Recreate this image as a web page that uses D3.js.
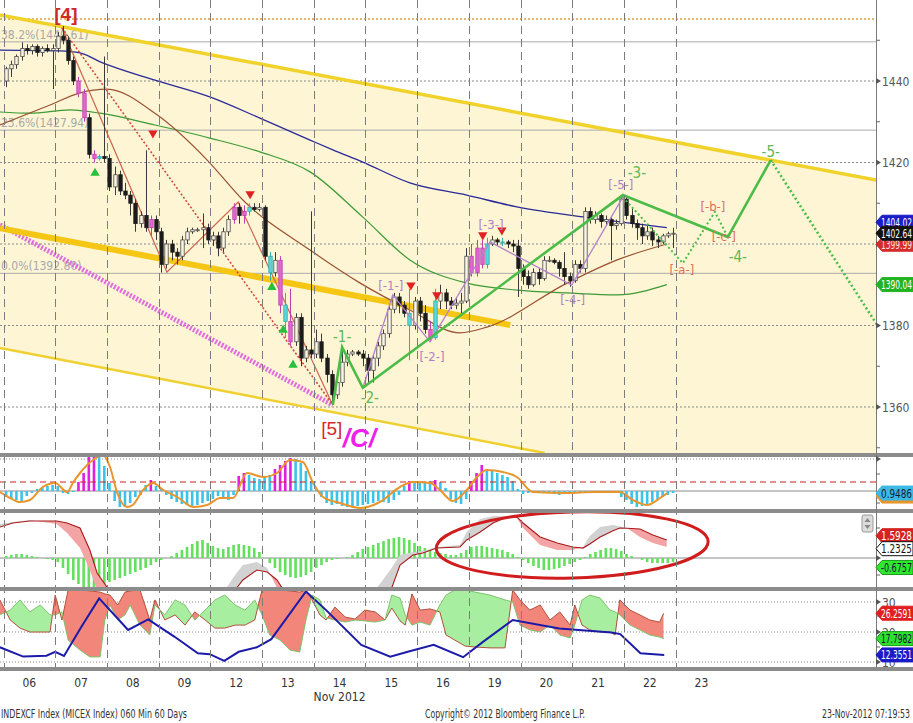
<!DOCTYPE html>
<html><head><meta charset="utf-8">
<script src="https://cdn.jsdelivr.net/npm/d3@7"></script>
<style>
html,body{margin:0;padding:0;background:#fff;}
svg{display:block;}
text{font-family:"Liberation Sans Narrow","DejaVu Sans Condensed","Arial Narrow",sans-serif;}
</style></head><body>
<svg id="chart" width="913" height="723"></svg>
<script>
// ---------------- DATA ----------------
const dayLabels = ["06","07","08","09","12","13","14","15","16","19","20","21","22","23"];
const barsPerDay = 10;

const open = [1440,1443,1444,1446,1448,1447.5,1448.5,1447,1448,1447.5,
1448,1451,1450,1445,1440,1437,1431,1422,1421,1421.5,
1421,1414,1417,1413,1412,1410,1405,1407,1404,1406,
1403,1395,1400,1398,1397,1401,1403,1403.5,1403.5,1404,
1401,1402,1399,1403,1406,1409,1407,1408,1409,1408.5,
1409,1397,1393,1396,1385,1381,1376,1382,1372,1374,
1373,1376,1372,1368,1363,1366,1371,1373,1373.5,1373,
1372,1369,1372,1375,1378,1384,1387,1385,1383,1380,
1386,1383,1379,1377,1386,1388,1386,1385,1385.5,1386,
1397,1393,1399,1395,1400,1401,1400.5,1400.5,1400,1399.5,
1394,1392,1390,1393,1391.5,1396,1396,1395.5,1394,1392,
1391,1395,1394,1408,1406,1407,1405.5,1406,1404.5,1405,
1411,1407,1405,1404,1402,1403,1401,1400.5,1402,1402.5];
const high = [1443.5,1445,1446.5,1449.5,1449,1449,1449,1448.5,1449,1449,
1452,1453.5,1451,1446,1441,1438,1432,1423,1422,1446,
1422,1419,1418,1415,1413,1411,1408,1423,1407,1407,
1404,1401,1401,1399,1402,1404,1404,1404,1407.5,1405,
1403,1403,1404,1407,1410,1410,1409.5,1410,1410,1410,
1409.5,1398,1398,1397,1388,1389,1383,1383,1375,1408,
1379,1378,1373,1369,1367,1375,1374,1374,1374,1374,
1373,1373,1376,1379,1385,1388,1388,1386,1389,1387,
1387,1385,1381,1389,1390,1389,1387,1387,1388,1399,
1400,1401,1401,1401.5,1402,1401.5,1401.5,1401,1401,1401,
1395,1393.5,1394,1394,1397,1397,1396.5,1396,1398,1393,
1396,1396,1409,1409,1408,1407.5,1407,1406.5,1406,1412,
1411.5,1409,1406,1405,1404.5,1404,1402,1402.5,1403,1404];
const low = [1438.5,1441,1443,1445,1446.5,1446.5,1446,1446,1447,1438,
1447,1449,1444,1439,1436,1430,1421,1420,1420.5,1420,
1413,1412,1412,1411,1407,1403,1404,1403,1402,1401,
1393,1394,1396,1395,1396,1400,1402.5,1403,1399,1400,
1399.5,1397,1398,1402,1405,1405,1405,1407,1408,1408,
1396,1391,1392,1383,1377,1375,1375,1370,1371,1372,
1372,1371,1366,1360.5,1362,1365,1370,1372.5,1372.5,1370,
1366,1366,1370,1374,1377,1383,1383,1382,1371.5,1379,
1381,1378,1376,1376.5,1384,1384,1384,1384,1383,1385.5,
1392,1392,1394,1394,1399.5,1399.5,1399.5,1399,1398,1387,
1390,1389,1389.5,1390,1391,1395.5,1395,1392,1390,1389.5,
1390.5,1393,1393,1405,1405,1404,1404.5,1396,1403.5,1404.5,
1406,1404,1401,1400,1401,1399.5,1399,1400,1401.5,1399];
const close = [1443,1444,1446,1448,1447.5,1448.5,1447,1448,1447.5,1448,
1451,1450,1445,1440,1437,1431,1422,1421,1421.5,1421,
1414,1417,1413,1412,1410,1405,1407,1404,1406,1403,
1395,1400,1398,1397,1401,1403,1403.5,1403.5,1404,1401,
1402,1399,1403,1406,1409,1407,1408,1409,1408.5,1409,
1397,1393,1396,1385,1381,1376,1382,1372,1374,1373,
1376,1372,1368,1363,1366,1371,1373,1373.5,1373,1372,
1369,1372,1375,1378,1384,1387,1385,1383,1380,1386,
1383,1379,1377,1386,1388,1386,1385,1385.5,1386,1397,
1393,1399,1395,1400,1401,1400.5,1400.5,1400,1399.5,1394,
1392,1390,1393,1391.5,1396,1396,1395.5,1394,1392,1391,
1395,1394,1408,1406,1407,1405.5,1406,1404.5,1405,1411,
1407,1405,1404,1402,1403,1401,1400.5,1402,1402.5,1402.64];
const pinkBars = [14,15,17,28,44,46,53,55,82,90,91,92];
const cyanBars = [18,47,51,54,78,83,93,96];

// moving averages: [bar index, value]
const ma200 = [[-0.7,1447.6],[10.9,1447.4],[14.8,1446.9],[18.7,1444.7],[29.3,1440.2],[39.9,1436.1],[49.6,1430.9],[59.3,1425.5],[63.7,1423.1],[69.5,1420.1],[78.6,1415],[89.6,1412],[99.3,1409.1],[113.4,1406.4],[128.3,1404.02]];
const ma100 = [[-0.7,1432.4],[5.1,1432.1],[12.9,1432.9],[18.7,1432.1],[29.3,1429.2],[39.9,1426],[49.6,1422.6],[59.3,1417.7],[69.5,1406.6],[78.6,1396.1],[89.6,1390.4],[99.3,1388.7],[109,1388],[118.7,1387.5],[128.3,1390.04]];
const ma50 = [[-0.7,1429.2],[9,1434.1],[14.8,1437.1],[20,1438],[29.7,1431.7],[39.4,1420.6],[46.3,1410.8],[59.3,1398.5],[69,1390.4],[78.6,1383.8],[88.3,1378.2],[93.5,1379.6],[109,1390.4],[118.7,1396.1],[128.3,1399.99]];

// channel / trend lines
const channelUpper = [[-0.68,1456.2],[168.8,1415.7]];
const channelLower = [[-0.68,1374.5],[104.7,1348.7]];
const goldTrend = [[-0.68,1403.9],[98,1380.1]];
const magentaTrend = [[-0.68,1404.7],[63.7,1360.5]];
const topLevel = 1455.2;
const fibValues = [1449.61,1427.94,1392.80];
const fibLabels = ["38.2%(1449.61)","23.6%(1427.94)","0.0%(1392.80)"];
const gridValues = [1440,1420,1400,1380,1360];
const minorValues = [1450,1430,1410,1390,1370,1350];

// wave counts
const redZig = [[11.3,1453.0],[31.6,1393.1],[45.4,1410.3],[63.7,1360.5]];
const greenWave = [[63.7,1360.5],[65.5,1374.7],[69.5,1364.7],[119.8,1412.0],[140.1,1401.7],[148.4,1420.6]];
const greenWaveLabels = ["","-1-","-2-","-3-","-4-","-5-"];
const greenProjection = [[148.4,1420.6],[169,1380.1]];
const purpleWave = [[69.5,1364.7],[75.3,1387.5],[82.5,1376.0],[94.1,1400.5],[109.9,1389.9],[119.8,1411.5]];
const purpleLabels = ["","[-1-]","[-2-]","[-3-]","[-4-]","[-5-]"];
const abcWave = [[119.8,1411.5],[131.4,1395.3],[137.6,1407.9],[140.1,1401.7]];
const abcLabels = ["","[-a-]","[-b-]","[-c-]"];
const redDown = [[28.9,1427.2],[47.7,1412.3],[78.8,1389.9],[83.8,1387.5],[92.7,1402.2],[96.4,1403.4]];
const greenUp = [[17.7,1417.4],[51.9,1389.4],[54.1,1378.9],[56,1370.3]];

// panel 2 oscillator
const osc = [.85,.8,.775,.75,.875,.95,1.05,1.1,1.125,1.15,
1.125,.95,.925,.975,1.225,1.45,1.85,1.85,1.85,1.625,
1.2,.75,.6,.6,.7,.85,.9,1.15,1.275,1.125,
1.05,.9,.8,.725,.675,.65,.625,.65,.7,.75,
.8,.875,.825,.775,.9,1.375,1.45,1.4,1.325,1.3,
1.35,1.4,1.55,1.65,1.75,1.825,1.8,1.7,1.5,1.25,
1.05,.85,.7,.65,.675,.625,.6,.6,.625,.65,
.675,.7,.75,.725,.7,.775,.9,1.125,1.25,1.225,
1.2,1.225,1.25,1.275,1.225,1.075,.8,.7,.675,.8,
1.25,1.45,1.65,1.55,1.5,1.45,1.4,1.35,1.25,1.05,
.925,.95,.975,.95,.95,.975,.925,.9,.95,.925,
.975,.95,.975,.95,.975,1,.95,.975,.95,.85,
.775,.675,.6,.625,.675,.725,.8,.85,.9,.9486];
const oscHighlight = [14,15,16,17,28,45,46,52,53,54,55,78,83,90,91,92];
const oscSignal = [[-0.7,.975],[1.3,.825],[3.2,.725],[5.1,.775],[7.6,1.1],[10,1.2],[12.3,.975],[13.4,1.2],[14.8,1.45],[17.3,1.775],[19.2,1.9],[20.6,1.6],[22,.95],[23.9,.6],[25,.65],[27,1.025],[28.9,1.2],[30.9,1.025],[33.6,.85],[36.7,.6],[39.4,.65],[41.9,.825],[44.4,.825],[47.1,1.45],[50.2,1.35],[52.9,1.45],[55.4,1.775],[57.9,1.725],[59.9,1.2],[61.8,.85],[65.1,.7],[69,.575],[72.8,.725],[76.7,1.1],[79.2,1.225],[82.5,1.2],[84.4,1.025],[86.9,.75],[89.6,1.025],[91.6,1.35],[93.5,1.525],[96.6,1.475],[99.3,1.35],[102.4,.975],[109,.95],[114,.975],[119.2,.975],[121.7,.775],[124.5,.65],[127,.825],[128.3,.94]];
const oscLevels = {top:1.8, trigger:1.225, base:1};

// panel 3 macd
const macdHist = [.14,.21,.29,.29,.21,.14,.07,0,-.07,-.14,-.29,
-.71,-1.14,-1.57,-1.86,-2.07,-2.07,-2.07,-2,-1.86,
-1.71,-1.57,-1.43,-1.29,-1.14,-1,-.86,-.71,-.5,-.29,
-.14,0,.14,.36,.57,.79,1,1.21,1.29,1.07,
.86,.71,.64,.79,.93,1,.93,.86,.71,.43,
0,-.36,-.71,-1,-1.21,-1.36,-1.43,-1.36,-1.21,-1,
-.71,-.5,-.29,-.14,-.07,0,.07,.21,.43,.64,.79,.93,1.07,1.21,1.36,1.43,1.5,1.43,1.29,1.07,
.86,.71,.57,.43,.36,.29,.21,.21,.36,.57,
.79,.86,.86,.79,.71,.64,.57,.43,.29,
.07,-.14,-.36,-.57,-.71,-.86,-.86,-.79,-.71,-.57,-.43,-.29,
-.14,.07,.29,.43,.57,.71,.71,.64,.5,
.29,.14,0,-.14,-.29,-.36,-.36,-.36,-.36,-.29];
const macdIdx = [-0.7,1.8,5.1,10.3,12.3,14.8,16.7,18.1,24.5,34.1,40.9,44.8,46.3,49,51,52.9,54.4,59.3,67,71.9,74.8,76.7,79.2,81.1,83.8,88.3,89.6,92.2,94.7,97.4,99.3,100.5,103.8,107.1,110.1,112.1,113.4,115.4,117.9,119.2,120.6,123.1,125.6,128.3];
const macdSlow = [2.21,2.5,2.64,2.64,2.5,2.14,0.57,-1.07,-4.43,-4.8,-3.7,-2.29,-1.57,-0.86,-1,-1.57,-2.43,-3.7,-4.07,-3.36,-2.43,-0.5,0.21,0.36,0.71,0.79,1.29,1.86,2.5,2.93,2.93,2.5,1.5,1.07,0.79,0.71,1.0,1.5,1.95,2.14,2.12,2.07,1.64,1.29];
const macdFast = [2.43,2.57,2.71,2.43,1.79,0.71,-0.86,-2.29,-4.79,-5,-3.36,-1.21,-0.5,-0.29,-0.71,-2.14,-2.9,-4.07,-3.86,-2.29,-0.86,0.21,0.43,0.5,0.79,0.93,1.86,2.79,3,3,2.86,2.14,0.93,0.57,0.57,0.79,1.57,2.21,2.36,2.25,2.14,1.5,1.07,0.79];
const macdTagValues = [1.5928,1.2325,-0.6757];
const ellipseCenter = [110,0.93], ellipseHalf = [26.3,2.36];

// panel 4 DMI / ADX
const dmiIdx = [-0.7,1.3,3.2,5.1,7.1,9.0,10.0,11.3,12.5,14.8,16.7,18.7,19.6,20.6,22.1,23.5,24.5,26.4,28.3,29.3,31.2,33.2,35.1,37.0,39.0,40.9,42.8,44.8,46.7,48.6,50.0,51.5,53.5,55.4,57.3,58.5,59.7,61.2,62.4,64.1,66.1,68.0,69.9,71.9,73.8,75.1,76.7,77.7,79.0,80.6,82.5,84.4,85.6,87.3,89.3,91.2,94.1,97.0,98.5,99.9,101.8,103.8,105.7,107.6,109.6,110.5,111.9,113.4,115.4,117.3,118.3,119.2,121.2,123.1,125.0,126.9,127.7];
const diMinus = [30.7,24,21.3,20,20,20,32.3,24,34,34,33.7,33.3,32.7,32.3,29,33.3,33.7,34,24,30.7,24,25.7,22.3,26.7,24,21.3,21.3,22.3,22.3,24,34,34,34,33.7,33.3,34,30.7,25.7,24,28.3,25,24.3,27.3,26.7,24,28,23.7,22.3,32.7,27.3,27.7,26.7,19,17.3,15.3,15,14.7,14.7,34,30.7,27.3,29,24,26.7,22.3,29,22.3,20.7,20,20,19,30.7,27.3,25.7,24,23.3,26.2591];
const diPlus = [25.7,27.3,30.7,26.7,29,25.7,25.7,26.7,17.3,14,11.7,11.7,24,29,24,25.7,29,22.3,19,29,25.7,30.7,29,24,27.3,30.7,32.3,29,27.3,30.7,25.7,19,17.3,14,13.3,24,32.3,30.7,24.7,24,23.3,24,23.7,23.3,24,32.3,31.3,25.7,22.3,23.3,22.3,29,32.3,34,34,33.3,32.3,30.7,30,22.3,20.7,20,22.3,19,18,22.3,30.7,32.3,31.3,27.3,26.7,25.7,22.3,20.7,19,18.3,17.7982];
const adx = [[-0.7,14.9],[3.8,11.8],[8.3,12.1],[10,13.4],[11.7,12],[15.1,21.8],[18.5,31.2],[24.1,20.7],[28,24.2],[33.1,18.4],[37.6,12.9],[39.9,12.6],[42.7,10.4],[45.5,13.4],[49,14.9],[51.8,17.6],[58.5,33.5],[62.4,27.3],[69.2,15.7],[74.8,11.8],[78.2,13.4],[83.2,15.7],[88.9,11.6],[92.8,16.8],[98.5,24],[107.5,21.2],[117.6,19.8],[119.3,19.3],[123.2,12.9],[127.8,12.3551]];
const dmiGrid = [30,20,10];

// ---------------- LAYOUT ----------------
const W = 913, H = 723, AX = 876;
const svg = d3.select("#chart");
const defs = svg.append("defs");
const x = d3.scaleLinear().domain([0, 130]).range([3.5, 675.6]);
const bx = i => x(i + 0.5);
const PM = [0, 453], P2 = [457, 509], P3 = [513, 587], P4 = [591, 667];
const yM = d3.scaleLinear().domain([1360, 1440]).range([407, 81]);
const y2 = d3.scaleLinear().domain([1, 1.8]).range([491, 459]);
const y3 = d3.scaleLinear().domain([0, 1]).range([558, 544]);
const y4 = d3.scaleLinear().domain([10, 30]).range([662, 602]);

function clip(id, top, bot) {
  defs.append("clipPath").attr("id", id).append("rect")
    .attr("x", 0).attr("y", top).attr("width", AX).attr("height", bot - top);
}
clip("cM", PM[0], PM[1]); clip("c2", P2[0], P2[1]); clip("c3", P3[0], P3[1]); clip("c4", P4[0], P4[1]);

svg.append("rect").attr("width", W).attr("height", H).attr("fill", "#fff");

// ---------- main panel ----------
const gM = svg.append("g").attr("clip-path", "url(#cM)");
const pt = (d, ys) => [x(d[0]), ys(d[1])];
const u0 = pt(channelUpper[0], yM), u1 = pt(channelUpper[1], yM);
const l0 = pt(channelLower[0], yM), l1 = pt(channelLower[1], yM);
gM.append("path").attr("d", d3.line()([u0, u1, [AX, PM[1]], [l1[0], PM[1]], l1, l0]) + "Z")
  .attr("fill", "#fdf5d4");

gridValues.forEach(v => gM.append("line").attr("x1", 0).attr("x2", AX).attr("y1", yM(v)).attr("y2", yM(v))
  .attr("stroke", "#8a8a8a").attr("stroke-dasharray", "2,2"));
fibValues.forEach(v => gM.append("line").attr("x1", 0).attr("x2", AX).attr("y1", yM(v)).attr("y2", yM(v))
  .attr("stroke", "#ababab"));
gM.append("line").attr("x1", 0).attr("x2", AX).attr("y1", yM(topLevel)).attr("y2", yM(topLevel))
  .attr("stroke", "#d9a13c").attr("stroke-width", 1.5).attr("stroke-dasharray", "2,2");

fibLabels.forEach((t, k) => gM.append("text").attr("x", 1).attr("y", yM(fibValues[k]) - 3)
  .attr("font-size", 12).attr("fill", "#a8a8a8").text(t));

const lineGen = (ys, curve) => d3.line().x(d => x(d[0])).y(d => ys(d[1])).curve(curve || d3.curveLinear);

gM.append("path").attr("d", lineGen(yM)(channelUpper)).attr("stroke", "#f1d22a").attr("stroke-width", 3.5).attr("fill", "none");
gM.append("path").attr("d", lineGen(yM)(channelLower)).attr("stroke", "#f0d030").attr("stroke-width", 2.5).attr("fill", "none");
gM.append("path").attr("d", lineGen(yM)(magentaTrend)).attr("stroke", "#e06ce0").attr("stroke-width", 5).attr("stroke-dasharray", "2,1.6").attr("fill", "none");
gM.append("path").attr("d", lineGen(yM)(goldTrend)).attr("stroke", "#f6c614").attr("stroke-width", 6).attr("fill", "none");

gM.append("path").attr("d", lineGen(yM, d3.curveMonotoneX)(ma200)).attr("stroke", "#2a2a98").attr("stroke-width", 1.3).attr("fill", "none");
gM.append("path").attr("d", lineGen(yM, d3.curveMonotoneX)(ma100)).attr("stroke", "#3d9a35").attr("stroke-width", 1.2).attr("fill", "none");
gM.append("path").attr("d", lineGen(yM, d3.curveMonotoneX)(ma50)).attr("stroke", "#9a5233").attr("stroke-width", 1.2).attr("fill", "none");

gM.append("path").attr("d", lineGen(yM)(redZig)).attr("stroke", "#c9654f").attr("stroke-width", 1.2).attr("fill", "none");
gM.append("path").attr("d", lineGen(yM)([redZig[0], redZig[redZig.length - 1]])).attr("stroke", "#d24a3a")
  .attr("stroke-width", 1.6).attr("stroke-dasharray", "2,2").attr("fill", "none");

// candles
const gC = gM.append("g");
close.forEach((c, i) => {
  const o = open[i], cx = Math.round(bx(i)) + 0.5;
  const isPink = pinkBars.includes(i), isCyan = cyanBars.includes(i);
  const up = c >= o;
  let fill = up ? "#fbf6e3" : "#1c1c1c", stroke = up ? "#4a4a4a" : "#1c1c1c";
  if (isPink) { fill = "#e068d0"; stroke = "#c040b0"; }
  if (isCyan) { fill = "#5cd6d8"; stroke = "#2eaeb0"; }
  gC.append("line").attr("x1", cx).attr("x2", cx).attr("y1", yM(high[i])).attr("y2", yM(low[i]))
    .attr("stroke", isPink || isCyan ? stroke : "#3a3a3a").attr("stroke-width", 1);
  const yt = yM(Math.max(o, c)), yb = yM(Math.min(o, c));
  gC.append("rect").attr("x", cx - 1.7).attr("y", yt).attr("width", 3.4).attr("height", Math.max(1, yb - yt))
    .attr("fill", fill).attr("stroke", stroke).attr("stroke-width", 0.8);
});

// wave lines
gM.append("path").attr("d", lineGen(yM)(purpleWave)).attr("stroke", "#b482cc").attr("stroke-width", 1.3).attr("fill", "none");
gM.append("path").attr("d", lineGen(yM)(greenWave)).attr("stroke", "#4cbc48").attr("stroke-width", 2.6).attr("fill", "none");
gM.append("path").attr("d", lineGen(yM)(greenProjection)).attr("stroke", "#4cbc48").attr("stroke-width", 2.6).attr("stroke-dasharray", "2,2.5").attr("fill", "none");
gM.append("path").attr("d", lineGen(yM)(abcWave)).attr("stroke", "#4cbc48").attr("stroke-width", 2).attr("stroke-dasharray", "2,2.5").attr("fill", "none");

// signal triangles
redDown.forEach(d => gM.append("path").attr("d", d3.symbol(d3.symbolTriangle, 38)())
  .attr("transform", `translate(${x(d[0])},${yM(d[1])}) rotate(180)`).attr("fill", "#e02222"));
greenUp.forEach(d => gM.append("path").attr("d", d3.symbol(d3.symbolTriangle, 38)())
  .attr("transform", `translate(${x(d[0])},${yM(d[1])})`).attr("fill", "#25c03c"));

// wave labels
const gOff = [[0,0],[0,-5],[7,15],[14,-17],[10,25],[0,-3]];
greenWave.forEach((d, k) => { if (!greenWaveLabels[k]) return;
  gM.append("text").attr("x", x(d[0]) + gOff[k][0]).attr("y", yM(d[1]) + gOff[k][1]).attr("text-anchor", "middle")
    .attr("font-size", 15).attr("fill", "#5cb858").text(greenWaveLabels[k]); });
const pOff = [[0,0],[-2,-5],[2,19],[1,-13],[1,19],[-2,-8]];
purpleWave.forEach((d, k) => { if (!purpleLabels[k]) return;
  gM.append("text").attr("x", x(d[0]) + pOff[k][0]).attr("y", yM(d[1]) + pOff[k][1]).attr("text-anchor", "middle")
    .attr("font-size", 13).attr("fill", "#b27ec6").text(purpleLabels[k]); });
const aOff = [[0,0],[-1,11],[-2,-1],[-4,4]];
abcWave.forEach((d, k) => { if (!abcLabels[k]) return;
  gM.append("text").attr("x", x(d[0]) + aOff[k][0]).attr("y", yM(d[1]) + aOff[k][1]).attr("text-anchor", "middle")
    .attr("font-size", 13).attr("fill", "#e0705a").text(abcLabels[k]); });

gM.append("text").attr("x", x(redZig[0][0]) + 4).attr("y", 21).attr("text-anchor", "middle")
  .attr("font-size", 19).attr("font-weight", "bold").attr("fill", "#cf2a2a").style("font-family", "Liberation Sans, Arial, sans-serif").text("[4]");
gM.append("text").attr("x", x(redZig[3][0]) - 1).attr("y", 435).attr("text-anchor", "middle")
  .attr("font-size", 19).attr("fill", "#d42a2a").style("font-family", "Liberation Sans, Arial, sans-serif").text("[5]");
gM.append("text").attr("x", x(redZig[3][0]) + 10).attr("y", 447)
  .attr("font-size", 26).attr("font-weight", "bold").attr("font-style", "italic").attr("fill", "#f020e8")
  .style("font-family", "Liberation Sans, Arial, sans-serif").text("/C/");

// ---------- panel 2 ----------
const g2 = svg.append("g").attr("clip-path", "url(#c2)");
g2.append("line").attr("x1", 0).attr("x2", AX).attr("y1", y2(oscLevels.top)).attr("y2", y2(oscLevels.top)).attr("stroke", "#888").attr("stroke-dasharray", "1,2");
g2.append("line").attr("x1", 0).attr("x2", AX).attr("y1", y2(oscLevels.base)).attr("y2", y2(oscLevels.base)).attr("stroke", "#8a8a8a");
osc.forEach((v, i) => {
  const hl = oscHighlight.includes(i);
  g2.append("rect").attr("x", bx(i) - 1.3).attr("width", 2.6)
    .attr("y", Math.min(y2(v), y2(oscLevels.base))).attr("height", Math.abs(y2(v) - y2(oscLevels.base)))
    .attr("fill", hl ? "#e020e0" : "#3cc3ea");
});
g2.append("line").attr("x1", 0).attr("x2", AX).attr("y1", y2(oscLevels.trigger)).attr("y2", y2(oscLevels.trigger))
  .attr("stroke", "#cc2222").attr("stroke-width", 1.2).attr("stroke-dasharray", "6,4");
g2.append("path").attr("d", lineGen(y2, d3.curveMonotoneX)(oscSignal)).attr("stroke", "#e8952b").attr("stroke-width", 2).attr("fill", "none");

// ---------- panel 3 ----------
const g3 = svg.append("g").attr("clip-path", "url(#c3)");
function diffFill(g, idxs, a, b, ys, colorAAbove, colorBAbove, id) {
  const pts = idxs.map((t, k) => ({ px: x(t), ya: ys(a[k]), yb: ys(b[k]) }));
  const T = 0, B = H;
  defs.append("clipPath").attr("id", id + "A").append("path").attr("d", d3.area().x(d => d.px).y0(T).y1(d => d.yb)(pts));
  defs.append("clipPath").attr("id", id + "B").append("path").attr("d", d3.area().x(d => d.px).y0(B).y1(d => d.yb)(pts));
  g.append("g").attr("clip-path", `url(#${id}A)`).append("path").attr("d", d3.area().x(d => d.px).y0(B).y1(d => d.ya)(pts)).attr("fill", colorAAbove);
  g.append("g").attr("clip-path", `url(#${id}B)`).append("path").attr("d", d3.area().x(d => d.px).y0(T).y1(d => d.ya)(pts)).attr("fill", colorBAbove);
}
g3.append("line").attr("x1", 0).attr("x2", AX).attr("y1", y3(0)).attr("y2", y3(0)).attr("stroke", "#8a8a8a");
macdHist.forEach((v, i) => g3.append("rect").attr("x", bx(i) - 1.3).attr("width", 2.6)
  .attr("y", Math.min(y3(v), y3(0))).attr("height", Math.abs(y3(v) - y3(0))).attr("fill", "#62e05e"));
diffFill(g3, macdIdx, macdFast, macdSlow, y3, "#d2d2d2", "#f4a4a4", "m3");
g3.append("path").attr("d", d3.line().x((t) => x(t)).y((t, k) => y3(macdSlow[k]))(macdIdx))
  .attr("stroke", "#a81a1a").attr("stroke-width", 1.1).attr("fill", "none");
g3.append("ellipse").attr("cx", x(ellipseCenter[0])).attr("cy", y3(ellipseCenter[1]))
  .attr("rx", x(ellipseHalf[0]) - x(0)).attr("ry", y3(0) - y3(ellipseHalf[1]))
  .attr("transform", `rotate(-1.5 ${x(ellipseCenter[0])} ${y3(ellipseCenter[1])})`)
  .attr("fill", "none").attr("stroke", "#d01c1c").attr("stroke-width", 3);

// ---------- panel 4 ----------
const g4 = svg.append("g").attr("clip-path", "url(#c4)");
dmiGrid.forEach(v => g4.append("line").attr("x1", 0).attr("x2", AX).attr("y1", y4(v)).attr("y2", y4(v)).attr("stroke", "#888").attr("stroke-dasharray", "1,2"));
diffFill(g4, dmiIdx, diMinus, diPlus, y4, "#f3867a", "#a8eea0", "d4");
g4.append("path").attr("d", d3.line().x(t => x(t)).y((t, k) => y4(diMinus[k]))(dmiIdx)).attr("stroke", "#b0503c").attr("stroke-width", 1).attr("fill", "none");
g4.append("path").attr("d", d3.line().x(t => x(t)).y((t, k) => y4(diPlus[k]))(dmiIdx)).attr("stroke", "#7cc46c").attr("stroke-width", 1).attr("fill", "none");
g4.append("path").attr("d", lineGen(y4)(adx)).attr("stroke", "#1b1ba8").attr("stroke-width", 2).attr("fill", "none");

// ---------- day lines ----------
d3.range(0, 14).forEach(k => svg.append("line").attr("x1", Math.round(x(k * barsPerDay)) + 0.5).attr("x2", Math.round(x(k * barsPerDay)) + 0.5)
  .attr("y1", 0).attr("y2", P4[1]).attr("stroke", "#7c7c7c").attr("stroke-dasharray", "8,5"));

// ---------- separators ----------
[453, 509, 587, 667].forEach(yy => svg.append("rect").attr("x", 0).attr("y", yy).attr("width", W).attr("height", 4).attr("fill", "#8c8c8c"));

// ---------- right axis ----------
svg.append("line").attr("x1", AX + 0.5).attr("x2", AX + 0.5).attr("y1", 0).attr("y2", P4[1]).attr("stroke", "#7a7a7a");
const arrow = yy => svg.append("path").attr("d", `M${AX},${yy - 3}L${AX + 5},${yy}L${AX},${yy + 3}Z`).attr("fill", "#555");
const tick = yy => svg.append("line").attr("x1", AX).attr("x2", AX + 4).attr("y1", yy).attr("y2", yy).attr("stroke", "#666");
gridValues.forEach(v => { arrow(yM(v)); svg.append("text").attr("x", AX + 6).attr("y", yM(v) + 4.5).attr("font-size", 12).attr("fill", "#555").text(v); });
minorValues.forEach(v => tick(yM(v)));
arrow(y2(oscLevels.top)); tick(474); tick(503);
arrow(y3(0)); tick(528); tick(575);
dmiGrid.forEach(v => { arrow(y4(v)); svg.append("text").attr("x", AX + 6).attr("y", y4(v) + 4.5).attr("font-size", 12).attr("fill", "#555").text(v); });
tick(616); tick(647);

// scroll widget
svg.append("rect").attr("x", 862).attr("y", 515).attr("width", 11).attr("height", 17).attr("rx", 2).attr("fill", "#dcdcdc").attr("stroke", "#999");
svg.append("path").attr("d", "M864.5,522L867.5,518L870.5,522Z M864.5,525L867.5,529L870.5,525Z").attr("fill", "#888");

// ---------- tags ----------
function tags(list, ys, anchor, gap) {
  const items = list.map(d => Object.assign({}, d, { py: ys(d.v) }));
  const order = items.slice().sort((a, b) => a.py - b.py);
  const ai = order.indexOf(items[anchor]);
  for (let k = ai - 1; k >= 0; k--) order[k].py = Math.min(order[k].py, order[k + 1].py - gap);
  for (let k = ai + 1; k < order.length; k++) order[k].py = Math.max(order[k].py, order[k - 1].py + gap);
  items.forEach(d => {
    const yy = d.py;
    svg.append("path").attr("d", `M${AX},${yy}L${AX + 6},${yy - 7}L${W},${yy - 7}L${W},${yy + 7}L${AX + 6},${yy + 7}Z`)
      .attr("fill", d.fill).attr("stroke", d.stroke || d.fill).attr("stroke-width", 1);
    if (d.text) svg.append("text").attr("x", AX + 5).attr("y", yy + 4.5).attr("font-size", 12.5).attr("fill", d.color)
      .attr("textLength", 31).attr("lengthAdjust", "spacingAndGlyphs").text(d.text);
  });
}
const last = a => a[a.length - 1];
tags([
  { v: last(ma200)[1], text: last(ma200)[1].toFixed(2), fill: "#1c1cc8", color: "#fff" },
  { v: last(ma100)[1], text: last(ma100)[1].toFixed(2), fill: "#22b322", color: "#fff" },
  { v: last(ma50)[1], text: last(ma50)[1].toFixed(2), fill: "#d42a2a", color: "#ffe0e0" },
  { v: last(close), text: last(close).toFixed(2), fill: "#111", color: "#fff" }
], yM, 3, 11);
tags([
  { v: last(oscSignal)[1], text: "", fill: "#e8952b", color: "#000" },
  { v: last(osc), text: last(osc).toFixed(4), fill: "#3cb8e4", color: "#123" }
], y2, 1, 3);
tags([
  { v: macdTagValues[0], text: macdTagValues[0].toFixed(4), fill: "#d42222", color: "#fff" },
  { v: macdTagValues[1], text: macdTagValues[1].toFixed(4), fill: "#fff", color: "#111", stroke: "#111" },
  { v: macdTagValues[2], text: macdTagValues[2].toFixed(4), fill: "#2ee82e", color: "#113", stroke: "#1a9a1a" }
], y3, 0, 13);
tags([
  { v: last(diMinus), text: last(diMinus).toFixed(4), fill: "#e02020", color: "#fff" },
  { v: last(diPlus), text: last(diPlus).toFixed(4), fill: "#2ee02e", color: "#113", stroke: "#1a9a1a" },
  { v: last(adx)[1], text: last(adx)[1].toFixed(4), fill: "#1a1ac8", color: "#fff" }
], y4, 0, 13);

// ---------- x axis ----------
dayLabels.forEach((d, k) => svg.append("text").attr("x", x(k * barsPerDay + barsPerDay / 2)).attr("y", 687)
  .attr("text-anchor", "middle").attr("font-size", 12).attr("fill", "#333").text(d));
svg.append("text").attr("x", x(6 * barsPerDay + barsPerDay / 2)).attr("y", 701).attr("text-anchor", "middle")
  .attr("font-size", 12).attr("fill", "#333").text("Nov 2012");

// ---------- footer ----------
svg.append("text").attr("x", 1).attr("y", 718).attr("font-size", 12).attr("fill", "#333")
  .attr("textLength", 186).attr("lengthAdjust", "spacingAndGlyphs").text("INDEXCF Index (MICEX Index) 060 Min 60 Days");
svg.append("text").attr("x", 425).attr("y", 718).attr("font-size", 12).attr("fill", "#333")
  .attr("textLength", 160).attr("lengthAdjust", "spacingAndGlyphs").text("Copyright\u00A9 2012 Bloomberg Finance L.P.");
svg.append("text").attr("x", 910).attr("y", 718).attr("text-anchor", "end").attr("font-size", 12).attr("fill", "#333")
  .attr("textLength", 88).attr("lengthAdjust", "spacingAndGlyphs").text("23-Nov-2012 07:19:53");
</script>
</body></html>
